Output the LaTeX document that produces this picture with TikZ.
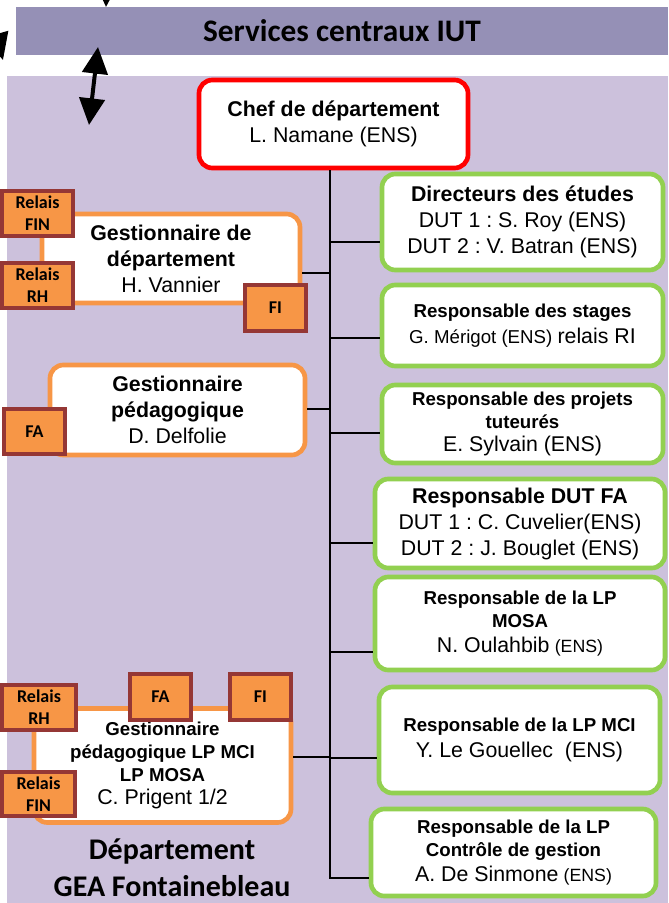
\documentclass[tikz,border=0pt]{standalone}
\usepackage{fontspec}
\setmainfont{Liberation Sans}
\newfontfamily\calib{Carlito}
\usetikzlibrary{arrows.meta}
\definecolor{bandcol}{RGB}{149,144,182}
\definecolor{deptcol}{RGB}{204,193,220}
\definecolor{orangecol}{RGB}{247,150,70}
\definecolor{greencol}{RGB}{146,208,80}
\definecolor{badgeedge}{RGB}{149,55,53}
\newcommand\bigtxt{\fontsize{16}{19.5}\selectfont}
\newcommand\smalltxt{\fontsize{14}{17.3}\selectfont}
\newcommand\enstxt{\fontsize{13.3}{16}\selectfont}
\frenchspacing
\tikzset{
  px/.style 2 args={minimum width=#1*0.75pt, minimum height=#2*0.75pt},
  boss/.style={draw=red, line width=3.5pt, fill=white, rounded corners=10pt, align=center, inner sep=0pt, font=\bigtxt},
  orgbox/.style={draw=orangecol, line width=3.5pt, fill=white, rounded corners=10pt, align=center, inner sep=0pt, font=\bigtxt},
  grnbox/.style={draw=greencol, line width=3.5pt, fill=white, rounded corners=10pt, align=center, inner sep=0pt, font=\bigtxt},
  badge/.style={draw=badgeedge, fill=orangecol, line width=3pt, align=center, inner sep=0pt, font=\calib\bfseries\fontsize{13.5}{16.5}\selectfont},
  link/.style={line width=2.2pt},
  bigarrow/.style={line width=3pt, -{Triangle[width=19pt,length=20pt]}},
}

\begin{document}
\begin{tikzpicture}[x=0.75pt,y=-0.75pt]
  \useasboundingbox (0,0) rectangle (668,903);
  % backgrounds
  \node[fill=deptcol, px={661}{827}, inner sep=0pt] (dept) at (337.5,489.5) {};
  \node[fill=bandcol, px={652}{48}, inner sep=0pt, font=\calib\bfseries\fontsize{23.5}{28}\selectfont] (iut) at (342,31) {Services centraux IUT};
  \node[font=\calib\bfseries\fontsize{22.5}{28}\selectfont, align=center] (deptname) at (172,868) {Département\\GEA Fontainebleau};

  % arrows
  \coordinate (up) at (98,47);
  \coordinate (down) at (89,125);
  \draw[line width=3pt, {Triangle[width=19pt,length=20pt]}-{Triangle[width=19pt,length=20pt]}] (up) -- (down);
  \begin{scope}
    \clip (0,0) rectangle (668,903);
    \coordinate (outA) at (108,-60);
    \coordinate (tipA) at (106,7);
    \coordinate (outB) at (-52,-132);
    \coordinate (tipB) at (3,60);
    \draw[bigarrow] (outA) -- (tipA);
    \draw[bigarrow] (outB) -- (tipB);
  \end{scope}

  % trunk
  \coordinate (ttop) at (330,170);
  \coordinate (tbot) at (330,878);

  \node[boss, px={269}{88}] (chef) at (333.5,124) {\textbf{Chef de département}\\L. Namane (ENS)};

  \node[grnbox, px={281}{96}] (dir) at (522.5,222) {\textbf{Directeurs des études}\\DUT 1 : S. Roy (ENS)\\DUT 2 : V. Batran (ENS)};
  \node[grnbox, px={281}{81}, font=\smalltxt] (stg) at (522.5,325.5) {\textbf{Responsable des stages}\\[2pt]G. Mérigot (ENS) {\bigtxt relais RI}};
  \node[grnbox, px={281}{78}, font=\smalltxt] (tut) at (522.5,424) {\textbf{Responsable des projets}\\\textbf{tuteurés}\\{\bigtxt E. Sylvain (ENS)}};
  \node[grnbox, px={290}{89}] (fa) at (520,523.5) {\textbf{Responsable DUT FA}\\DUT 1 : C. Cuvelier(ENS)\\DUT 2 : J. Bouglet (ENS)};
  \node[grnbox, px={290}{93}, font=\smalltxt] (mosa) at (520,623.5) {\textbf{Responsable de la LP}\\\textbf{MOSA}\\[1pt]{\bigtxt N. Oulahbib} {\enstxt (ENS)}};
  \node[grnbox, px={281}{106}] (mci) at (519.5,740) {{\smalltxt\bfseries Responsable de la LP MCI}\\Y. Le Gouellec\ \ (ENS)};
  \node[grnbox, px={285}{87}, font=\smalltxt] (cg) at (513.5,852.5) {\textbf{Responsable de la LP}\\\textbf{Contrôle de gestion}\\[1pt]{\bigtxt A. De Sinmone} {\enstxt (ENS)}};

  \node[orgbox, px={258}{89}] (gdep) at (171,258.5) {\textbf{Gestionnaire de}\\\textbf{département}\\H. Vannier};
  \node[orgbox, px={255}{90}] (gped) at (177.5,410) {\textbf{Gestionnaire}\\\textbf{pédagogique}\\D. Delfolie};
  \node[orgbox, px={257}{114}, font=\smalltxt] (glp) at (162.5,765.5) {\textbf{Gestionnaire}\\\textbf{pédagogique LP MCI}\\\textbf{LP MOSA}\\{\bigtxt C. Prigent 1/2}};

  \draw[link] (ttop) -- (tbot) -- (tbot -| cg.west);
  \foreach \n/\y in {dir/242, stg/338, tut/433, fa/543, mosa/652, mci/758} {
    \coordinate (j\n) at (330,\y);
    \draw[link] (j\n) -- (j\n -| \n.west);
  }
  \foreach \n/\y in {gdep/273, gped/409, glp/757} {
    \coordinate (j\n) at (330,\y);
    \draw[link] (j\n) -- (j\n -| \n.east);
  }

  % badges
  \node[badge, px={71}{45}] (rfin1) at (37.5,213.5) {Relais\\FIN};
  \node[badge, px={71}{45}] (rrh1) at (37.5,285.5) {Relais\\RH};
  \node[badge, px={61}{46}] (fi1) at (275.5,308) {FI};
  \node[badge, px={61}{45}] (fa1) at (34.5,431.5) {FA};
  \node[badge, px={74}{45}] (rrh2) at (39,707.5) {Relais\\RH};
  \node[badge, px={73}{44}] (rfin2) at (38.5,794) {Relais\\FIN};
  \node[badge, px={61}{46}] (fa2) at (160.5,697) {FA};
  \node[badge, px={61}{46}] (fi2) at (260.5,697) {FI};
\end{tikzpicture}
\end{document}
